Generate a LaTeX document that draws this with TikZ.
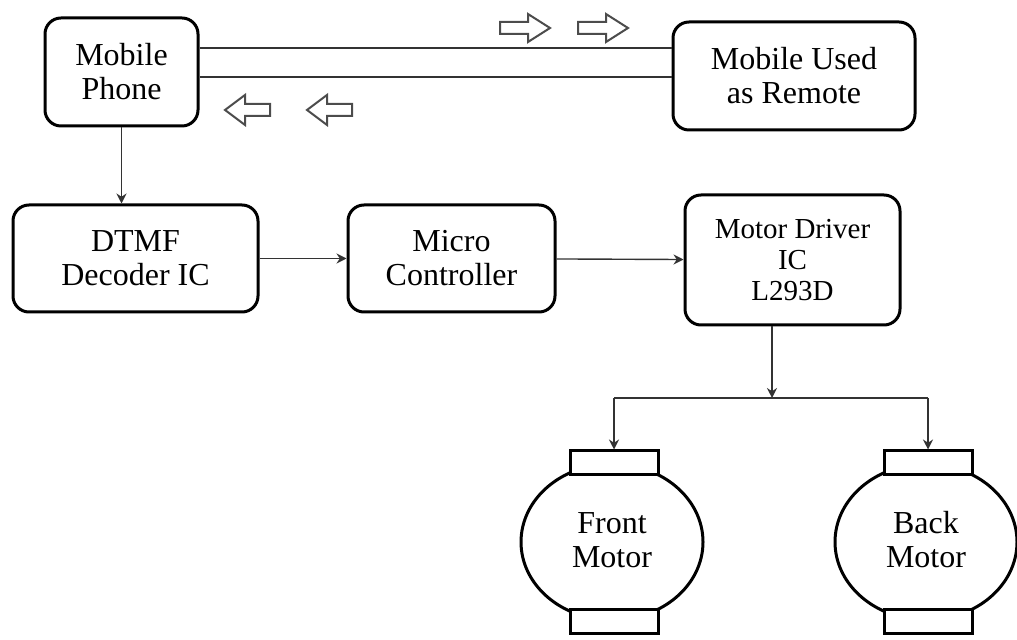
\documentclass[tikz,border=0pt]{standalone}
\usepackage{fontspec}
\setmainfont{Liberation Serif}
\usetikzlibrary{arrows.meta}
\begin{document}
\begin{tikzpicture}[x=0.5pt,y=-0.5pt,
  blk/.style={draw, line width=1.5pt, rounded corners=8pt, align=center, inner sep=0pt,
     font=\fontsize{16}{17}\selectfont},
  conn/.style={line width=0.7pt, draw=black!80},
  arr/.style={conn, -{Stealth[length=5pt,width=5pt]}},
  hol/.style={draw=black!70, line width=1pt, fill=white},
  motcap/.style={draw, line width=1.5pt, fill=white},
  mot/.style={draw, line width=1.5pt}
]
\useasboundingbox (0,0) rectangle (1017,640);
% boxes
\node[blk, minimum width=76.5pt, minimum height=54pt] (mp) at (121.5,72) {Mobile\\Phone};
\node[blk, minimum width=121pt, minimum height=54pt] (rem) at (794,76) {Mobile Used\\as Remote};
\node[blk, minimum width=122.5pt, minimum height=53.5pt] (dtmf) at (135.5,258.5) {DTMF\\Decoder IC};
\node[blk, minimum width=103.5pt, minimum height=53.5pt] (mc) at (451.5,258.5) {Micro\\Controller};
\node[blk, minimum width=107.5pt, minimum height=65pt, font=\fontsize{14.5}{15.5}\selectfont] (drv) at (792.5,260) {Motor Driver\\IC\\L293D};
% top links
\coordinate (l1) at (0,48);
\coordinate (l2) at (0,77);
\draw[conn] (mp.east |- l1) -- (rem.west |- l1);
\draw[conn] (mp.east |- l2) -- (rem.west |- l2);
% hollow arrows right
\foreach \x in {500,578}{
  \draw[hol] (\x,22) -- (\x+28,22) -- (\x+28,14) -- (\x+50,28) -- (\x+28,42) -- (\x+28,34) -- (\x,34) -- cycle;
}
% hollow arrows left
\foreach \x in {225,307}{
  \draw[hol] (\x+45,104) -- (\x+20,104) -- (\x+20,95) -- (\x,110) -- (\x+20,125) -- (\x+20,116) -- (\x+45,116) -- cycle;
}
% main flow
\draw[arr] (mp) -- (dtmf.north -| mp);
\draw[arr] (dtmf) -- (mc);
\draw[arr] (mc) -- (drv);
% motors
\foreach \n/\cx/\t in {fm/612/{Front\\Motor}, bm/926/{Back\\Motor}}{
  \draw[mot] (\cx,542) ellipse [x radius=91, y radius=78];
  \node[motcap, minimum width=44pt, minimum height=12pt, inner sep=0pt] (\n top) at (\cx+2,463) {};
  \node[motcap, minimum width=44pt, minimum height=12pt, inner sep=0pt] (\n bot) at (\cx+2,621) {};
  \node[align=center, font=\fontsize{16}{17}\selectfont] (\n) at (\cx,540) {\t};
}
\coordinate (j) at (772,398);
\draw[arr] (drv.south -| j) -- (j);
\draw[conn] (fmtop.north |- j) -- (bmtop.north |- j);
\draw[arr] (fmtop.north |- j) -- (fmtop.north);
\draw[arr] (bmtop.north |- j) -- (bmtop.north);
\end{tikzpicture}
\end{document}
